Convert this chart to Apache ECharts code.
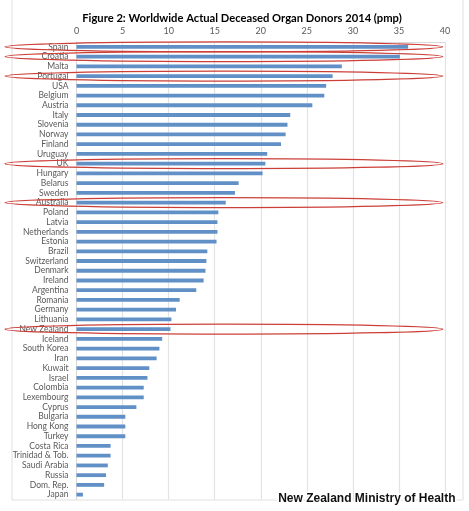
<!DOCTYPE html>
<html>
<head>
<meta charset="utf-8">
<script src="https://cdn.jsdelivr.net/npm/echarts@6/dist/echarts.min.js"></script>
<style>
  html, body { margin: 0; padding: 0; background: #fff; }
  #chart { width: 469px; height: 511px; }
</style>
</head>
<body>
<div id="chart"></div>
<script>
const countries = ['Spain', 'Croatia', 'Malta', 'Portugal', 'USA', 'Belgium', 'Austria', 'Italy', 'Slovenia',
  'Norway', 'Finland', 'Uruguay', 'UK', 'Hungary', 'Belarus', 'Sweden', 'Australia', 'Poland', 'Latvia',
  'Netherlands', 'Estonia', 'Brazil', 'Switzerland', 'Denmark', 'Ireland', 'Argentina', 'Romania', 'Germany',
  'Lithuania', 'New Zealand', 'Iceland', 'South Korea', 'Iran', 'Kuwait', 'Israel', 'Colombia', 'Lexembourg',
  'Cyprus', 'Bulgaria', 'Hong Kong', 'Turkey', 'Costa Rica', 'Trinidad & Tob.', 'Saudi Arabia', 'Russia',
  'Dom. Rep.', 'Japan'];
const donors = [36.0, 35.1, 28.8, 27.8, 27.1, 26.9, 25.6, 23.2, 22.9,
  22.7, 22.2, 20.7, 20.5, 20.2, 17.6, 17.2, 16.2, 15.4, 15.3,
  15.3, 15.2, 14.2, 14.1, 14.0, 13.8, 13.0, 11.2, 10.8,
  10.3, 10.2, 9.3, 9.0, 8.7, 7.9, 7.7, 7.3, 7.3,
  6.5, 5.3, 5.3, 5.3, 3.7, 3.7, 3.4, 3.2,
  3.0, 0.7];
const highlighted = ['Spain', 'Croatia', 'Portugal', 'UK', 'Australia', 'New Zealand'];
const xTicks = [0, 5, 10, 15, 20, 25, 30, 35, 40];

const chart = echarts.init(document.getElementById('chart'));

chart.setOption({
  animation: false,
  textStyle: { fontFamily: 'Lato' },
  title: {
    text: 'Figure 2: Worldwide Actual Deceased Organ Donors 2014 (pmp)',
    left: 237,
    textAlign: 'center',
    top: 8,
    textStyle: { fontSize: 11.2, fontWeight: 'bold', color: '#000', fontFamily: 'Lato' }
  },
  grid: { left: 76.5, right: 24, top: 42, bottom: 11.5, containLabel: false },
  xAxis: {
    type: 'value',
    position: 'top',
    min: xTicks[0],
    max: xTicks[xTicks.length - 1],
    interval: 5,
    axisLine: { show: true, lineStyle: { color: '#d9d9d9' } },
    axisTick: { show: false },
    axisLabel: { color: '#595959', fontSize: 9, margin: 6 },
    splitLine: { lineStyle: { color: '#e3e3e3', width: 1.2 } }
  },
  yAxis: {
    type: 'category',
    inverse: true,
    data: countries,
    axisLine: { show: true, lineStyle: { color: '#d9d9d9' } },
    axisTick: { show: false },
    axisLabel: { color: '#595959', fontSize: 8.5, margin: 8, interval: 0 }
  },
  series: [{
    type: 'bar',
    data: donors,
    barWidth: 3.8,
    itemStyle: { color: '#6190c6' }
  }],
  graphic: []
});

// chart frame, annotations and source note
const g = [{
  type: 'rect',
  shape: { x: 12, y: -5, width: 451, height: 505 },
  style: { fill: 'none', stroke: '#e0e0e0', lineWidth: 1 },
  silent: true
}];
const left = chart.convertToPixel({ xAxisIndex: 0 }, -7.75);
const right = chart.convertToPixel({ xAxisIndex: 0 }, 39.75);
highlighted.forEach(name => {
  const y = chart.convertToPixel({ yAxisIndex: 0 }, name);
  g.push({
    type: 'ellipse',
    shape: { cx: (left + right) / 2, cy: y, rx: (right - left) / 2, ry: 5 },
    style: { fill: 'none', stroke: '#cc3f38', lineWidth: 1.3 },
    silent: true,
    z: 100
  });
});
g.push({
  type: 'text',
  right: 12,
  bottom: 5,
  style: {
    text: 'New Zealand Ministry of Health',
    font: 'bold 12px "Liberation Sans"',
    fill: '#111',
    stroke: '#fff',
    lineWidth: 3
  },
  z: 100
});
chart.setOption({ graphic: g });
window.addEventListener('resize', chart.resize);
</script>
</body>
</html>
